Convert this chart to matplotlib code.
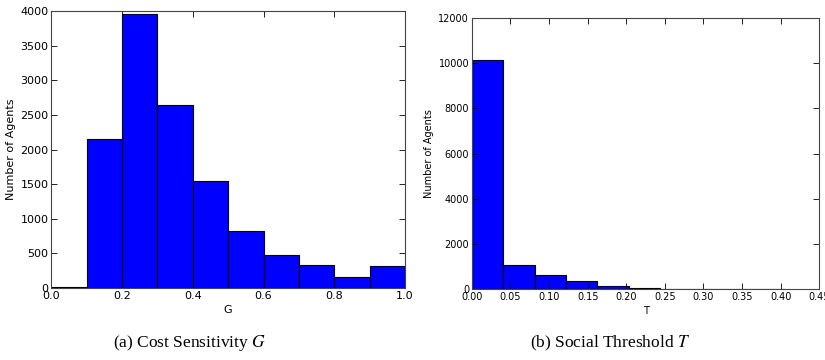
import matplotlib
matplotlib.use("Agg")
import matplotlib.pyplot as plt
import numpy as np

# cost sensitivity G histogram
g_edges = [0.0, 0.1, 0.2, 0.3, 0.4, 0.5, 0.6, 0.7, 0.8, 0.9, 1.0]
g_counts = [10, 2160, 3960, 2650, 1550, 830, 480, 330, 160, 320]

# social threshold T histogram
t_edges = [0.0, 0.0406, 0.0812, 0.1218, 0.1624, 0.203, 0.2436, 0.2842, 0.3248, 0.3654, 0.406]
t_counts = [10130, 1080, 620, 370, 130, 60, 20, 20, 0, 20]

plt.rcParams['mathtext.fontset'] = 'stix'

fig = plt.figure(figsize=(8.25, 3.6), dpi=100)
ax1 = fig.add_axes([0.062, 0.2, 0.429, 0.769])
ax2 = fig.add_axes([0.572, 0.197, 0.421, 0.753])


def draw_hist(ax, edges, counts, fs):
    edges = np.array(edges)
    ax.bar(edges[:-1], counts, width=np.diff(edges), align='edge',
           color='#0000ff', edgecolor='black', linewidth=0.8)
    ax.tick_params(direction='in', top=True, right=True, labelsize=fs,
                   length=4, width=0.6, pad=2)
    for s in ax.spines.values():
        s.set_color('#444444')
        s.set_linewidth(0.8)


draw_hist(ax1, g_edges, g_counts, 8)
ax1.set_xlim(0, 1.0)
ax1.set_ylim(0, 4000)
ax1.set_xticks(np.arange(0, 1.01, 0.2))
ax1.set_xticklabels(['0.0', '0.2', '0.4', '0.6', '0.8', '1.0'])
ax1.set_yticks(np.arange(0, 4001, 500))
ax1.set_xlabel('G', fontsize=8, labelpad=3)
ax1.set_ylabel('Number of Agents', fontsize=8, labelpad=3)

draw_hist(ax2, t_edges, t_counts, 7)
ax2.set_xlim(0, 0.45)
ax2.set_ylim(0, 12000)
ax2.set_xticks(np.arange(0, 0.451, 0.05))
ax2.set_xticklabels(['%.2f' % v for v in np.arange(0, 0.451, 0.05)])
ax2.set_yticks(np.arange(0, 12001, 2000))
ax2.set_xlabel('T', fontsize=7, labelpad=3)
ax2.set_ylabel('Number of Agents', fontsize=7, labelpad=3)

fig.text(0.23, 0.035, r'(a) Cost Sensitivity $G$', ha='center', fontsize=12.5,
         family='Liberation Serif')
fig.text(0.74, 0.035, r'(b) Social Threshold $T$', ha='center', fontsize=12.5,
         family='Liberation Serif')

fig.savefig('out.png', dpi=100)
